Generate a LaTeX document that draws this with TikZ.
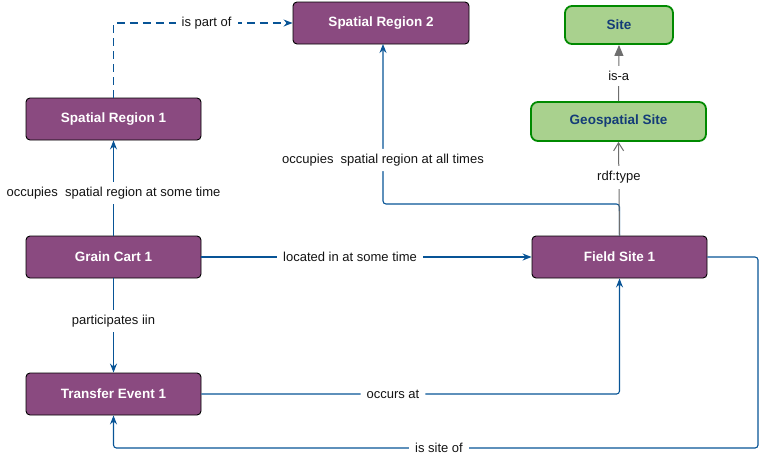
\documentclass[tikz,border=0pt]{standalone}
\usepackage{fontspec}
\setmainfont{Liberation Sans}
\usetikzlibrary{arrows.meta}
\definecolor{purp}{RGB}{138,74,128}
\definecolor{gfill}{RGB}{169,209,142}
\definecolor{gdraw}{RGB}{0,138,0}
\definecolor{navy}{RGB}{20,60,120}
\definecolor{eblue}{RGB}{8,84,150}
\definecolor{egray}{RGB}{110,110,110}
\definecolor{txt}{RGB}{20,20,20}
\tikzset{
  pbox/.style={draw=black, line width=0.9pt, fill=purp, rounded corners=4pt, text=white,
    font=\fontsize{13.5}{15}\selectfont\bfseries, minimum width=175pt, minimum height=42pt, inner sep=0pt},
  gbox/.style={draw=gdraw, line width=1.8pt, fill=gfill, rounded corners=7pt, text=navy,
    font=\fontsize{13.5}{15}\selectfont\bfseries, inner sep=0pt},
  lbl/.style={fill=white, text=txt, font=\fontsize{13}{15}\selectfont, inner xsep=6pt, inner ysep=5pt},
  bedge/.style={draw=eblue, line width=1.1pt, -{Stealth[length=9pt,width=7pt,inset=3pt]}},
  gedge/.style={draw=egray, line width=1pt},
}
\begin{document}
\begin{tikzpicture}[x=1pt,y=-1pt]
\useasboundingbox (0,0) rectangle (759,461);
\node[pbox] (sr1) at (113.5,119) {Spatial Region 1};
\node[pbox, minimum width=176pt] (sr2) at (381,23) {Spatial Region 2};
\node[gbox, minimum width=108pt, minimum height=38pt] (site) at (619,25) {Site};
\node[gbox, minimum width=175pt, minimum height=39pt] (geo) at (618.5,121.5) {Geospatial Site};
\node[pbox] (gc) at (113.5,257) {Grain Cart 1};
\node[pbox] (tr) at (113.5,394) {Transfer Event 1};
\node[pbox] (fs) at (619.5,257) {Field Site 1};

\coordinate (k1) at (619.5,204);
\coordinate (k2) at (383,204);
\coordinate (k3) at (383,44);
\coordinate (r1) at (758,257);
\coordinate (r2) at (758,448);
\coordinate (r3) at (113.5,448);

% is part of
\draw[bedge, dash pattern=on 8pt off 5pt] (sr1.north) |- (sr2.west) node[lbl, pos=0.76] {is part of};
% occupies at some time
\draw[bedge] (gc.north) -- (sr1.south) node[lbl, pos=0.45] {occupies\ \ spatial region at some time};
% occupies at all times
\draw[bedge, rounded corners=3pt] (fs.north) -- (k1) -- (k2) -- (k3) node[lbl, pos=0.275] {occupies\ \ spatial region at all times};
% rdf:type
\draw[gedge, -{Straight Barb[length=8pt,width=10pt]}] (fs.north) -- (geo.south) node[lbl, pos=0.62] {rdf:type};
% is-a
\draw[gedge, -{Triangle[length=11pt,width=9pt]}] (geo.north) -- (site.south) node[lbl, pos=0.45] {is-a};
% located in
\draw[bedge] (gc.east) -- (fs.west) node[lbl, pos=0.45] {located in at some time};
% participates
\draw[bedge] (gc.south) -- (tr.north) node[lbl, pos=0.453] {participates iin};
% occurs at
\draw[bedge, rounded corners=3pt] (tr.east) -| (fs.south) node[lbl, pos=0.229] {occurs at};
% is site of
\draw[bedge, rounded corners=3pt] (fs.east) -- (r1) -- (r2) -- (r3) node[lbl, pos=0.495] {is site of} -- (tr.south);
\end{tikzpicture}
\end{document}
